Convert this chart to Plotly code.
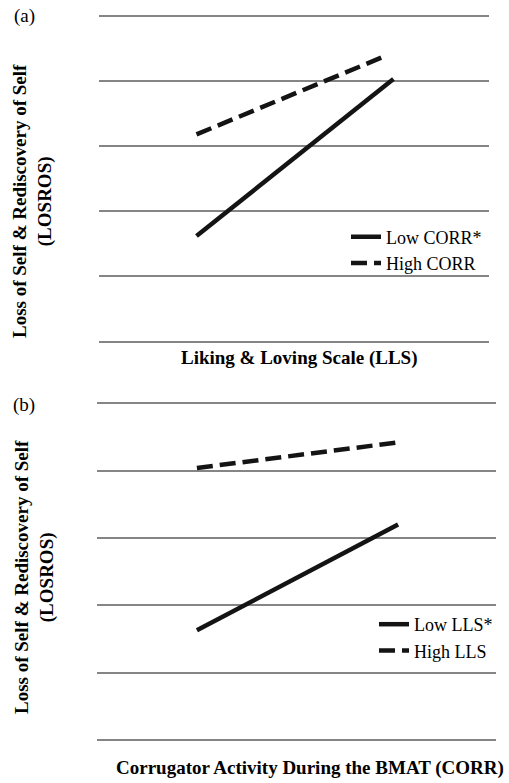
import plotly.graph_objects as go

# ---- data ----
# Panel (a): LOSROS vs LLS, by corrugator activity
a_low_x = [0.25, 0.755]
a_low_y = [1.62, 4.03]
a_high_x = [0.25, 0.725]
a_high_y = [3.18, 4.36]
a_names = ["Low CORR*", "High CORR"]

# Panel (b): LOSROS vs CORR, by LLS
b_low_x = [0.25, 0.755]
b_low_y = [1.63, 3.20]
b_high_x = [0.25, 0.755]
b_high_y = [4.04, 4.42]
b_names = ["Low LLS*", "High LLS"]

W, H = 509, 783
FONT = "Liberation Serif"


def px(x):
    return x / W


def py(y):
    return 1 - y / H


fig = go.Figure()
ink = "#141414"
dash = "16px,7px"

fig.add_trace(go.Scatter(x=a_low_x, y=a_low_y, mode="lines", name=a_names[0],
                         line=dict(color=ink, width=4.5), xaxis="x", yaxis="y", legend="legend"))
fig.add_trace(go.Scatter(x=a_high_x, y=a_high_y, mode="lines", name=a_names[1],
                         line=dict(color=ink, width=4.5, dash=dash), xaxis="x", yaxis="y", legend="legend"))
fig.add_trace(go.Scatter(x=b_low_x, y=b_low_y, mode="lines", name=b_names[0],
                         line=dict(color=ink, width=4.5), xaxis="x2", yaxis="y2", legend="legend2"))
fig.add_trace(go.Scatter(x=b_high_x, y=b_high_y, mode="lines", name=b_names[1],
                         line=dict(color=ink, width=4.5, dash=dash), xaxis="x2", yaxis="y2", legend="legend2"))

yax = dict(range=[-0.1, 5.1], dtick=1, tick0=0, showgrid=True, gridcolor="#858585", gridwidth=2,
           zeroline=False, showline=False, showticklabels=False, ticks="", fixedrange=True)
xax = dict(range=[0, 1], showgrid=False, zeroline=False, showline=False, showticklabels=False,
           ticks="", fixedrange=True)

legfont = dict(family=FONT, size=18, color="black")

fig.update_layout(
    width=W, height=H,
    margin=dict(l=0, r=0, t=0, b=0),
    paper_bgcolor="white", plot_bgcolor="white",
    font=dict(family=FONT, color="black"),
    xaxis=dict(xax, domain=[px(99), px(489)], anchor="y"),
    yaxis=dict(yax, domain=[py(348.2), py(9.2)], anchor="x"),
    xaxis2=dict(xax, domain=[px(97.3), px(495.7)], anchor="y2"),
    yaxis2=dict(yax, domain=[py(746.7), py(396.6)], anchor="x2"),
    legend=dict(x=px(346), y=py(218.5), xanchor="left", yanchor="top", font=legfont,
                bgcolor="rgba(0,0,0,0)", tracegroupgap=0, itemwidth=30),
    legend2=dict(x=px(374), y=py(606), xanchor="left", yanchor="top", font=legfont,
                 bgcolor="rgba(0,0,0,0)", tracegroupgap=0, itemwidth=30),
    showlegend=True,
)

ytitle = "<b>Loss of Self &amp; Rediscovery of Self<br>(LOSROS)</b>"
ann = [
    dict(text="(a)", x=px(24), y=py(16), font=dict(size=19)),
    dict(text="(b)", x=px(24), y=py(405), font=dict(size=19)),
    dict(text="<b>Liking &amp; Loving Scale (LLS)</b>", x=px(299), y=py(358), font=dict(size=19)),
    dict(text="<b>Corrugator Activity During the BMAT (CORR)</b>", x=px(310), y=py(768), font=dict(size=19)),
    dict(text=ytitle, x=px(33), y=py(201), textangle=-90, font=dict(size=19)),
    dict(text=ytitle, x=px(34), y=py(577), textangle=-90, font=dict(size=19)),
]
for a in ann:
    a.update(xref="paper", yref="paper", showarrow=False, xanchor="center", yanchor="middle")
    a["font"].update(family=FONT, color="black")
fig.update_layout(annotations=ann)

fig.write_html("out.html", config={"displayModeBar": False},
               post_script="document.body.style.margin='0';")
